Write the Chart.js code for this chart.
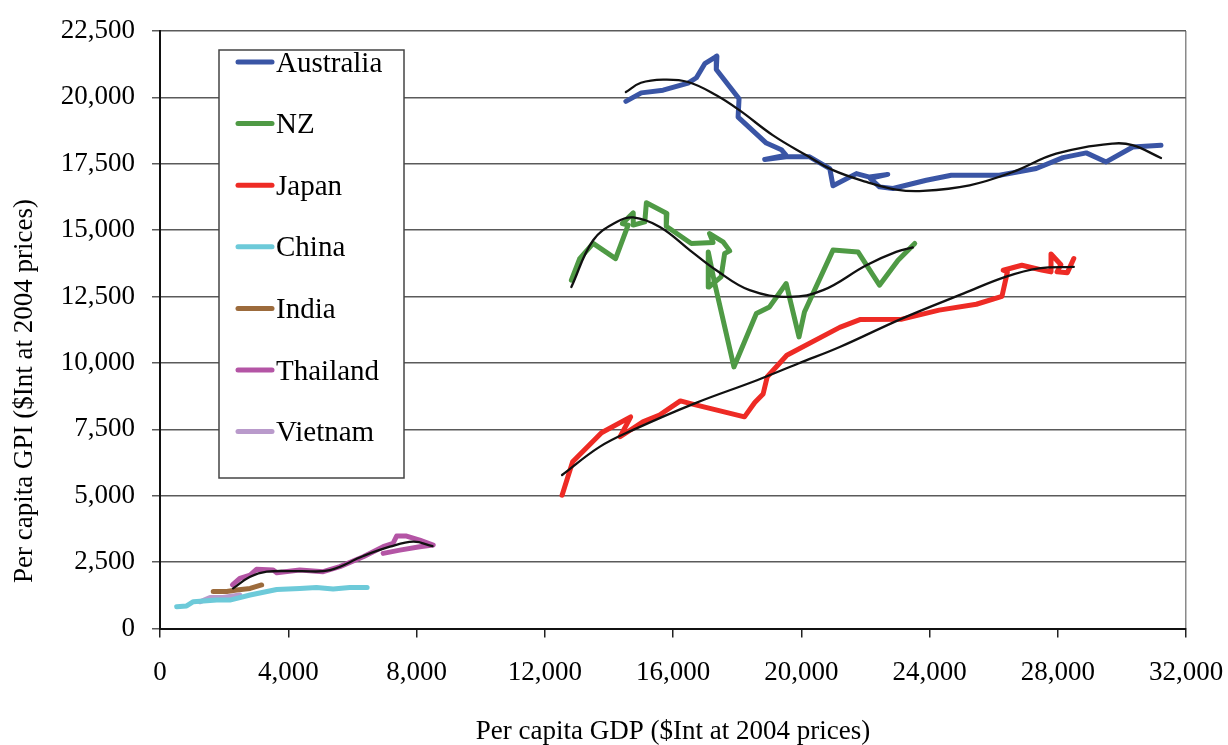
<!DOCTYPE html>
<html>
<head>
<meta charset="utf-8">
<script src="https://cdn.jsdelivr.net/npm/chart.js@4.4.1/dist/chart.umd.min.js"></script>
<style>
  html, body { margin: 0; padding: 0; background: #fff; }
</style>
</head>
<body>
<canvas id="chart" width="1228" height="745"></canvas>
<script>
// countries, in legend order
const countries = ['Australia', 'NZ', 'Japan', 'China', 'India', 'Thailand', 'Vietnam'];
const colors = ['#3a55a5', '#4f9a45', '#ee2b25', '#6dcad9', '#9c6b3c', '#b455a5', '#b99acb'];

// per capita GDP (x) and GPI (y), $Int at 2004 prices
const ausGdp = [14530, 15010, 15690, 16470, 16730, 16990, 17370, 17350, 18060, 18030, 18910, 19380, 19530, 18860, 19530, 20260, 20890, 20990, 21720, 22130, 22700, 22150, 22440, 22860, 23900, 24680, 26180, 27330, 28160, 28890, 29510, 30340, 31220];
const ausGpi = [19850, 20170, 20270, 20540, 20740, 21270, 21550, 21050, 19950, 19260, 18280, 18030, 17820, 17660, 17760, 17760, 17320, 16670, 17130, 17000, 17100, 16950, 16630, 16570, 16880, 17070, 17070, 17320, 17730, 17910, 17570, 18130, 18200];

const nzGdp = [12830, 13090, 13510, 14210, 14600, 14420, 14760, 14760, 15120, 15170, 15810, 15790, 16570, 17250, 17140, 17560, 17770, 17610, 17500, 17120, 17100, 17300, 17900, 18600, 19010, 19530, 19930, 20100, 20990, 21770, 22440, 23020, 23540];
const nzGpi = [13120, 13930, 14500, 13930, 15190, 15250, 15650, 15190, 15310, 16030, 15630, 15150, 14500, 14540, 14870, 14560, 14220, 14120, 13240, 12860, 14180, 13000, 9850, 11860, 12110, 12990, 10980, 11920, 14250, 14180, 12930, 13870, 14500];

const japanGdp = [12540, 12870, 13770, 14680, 14350, 15060, 15580, 16230, 16610, 18230, 18550, 18810, 18940, 19550, 21200, 21850, 23140, 24300, 25460, 26260, 26430, 26300, 26880, 27500, 27790, 27790, 28100, 27980, 28300, 28500];
const japanGpi = [5020, 6280, 7370, 7970, 7220, 7780, 8040, 8570, 8450, 7970, 8510, 8830, 9480, 10290, 11340, 11640, 11650, 11990, 12210, 12510, 13430, 13490, 13680, 13500, 13430, 14100, 13700, 13430, 13400, 13930];

const chinaGdp = [520, 830, 1040, 1770, 2180, 2810, 3640, 4360, 4880, 5400, 5920, 6460];
const chinaGpi = [820, 850, 1010, 1070, 1070, 1260, 1470, 1510, 1540, 1490, 1540, 1540];

const indiaGdp = [1660, 2080, 2390, 2810, 3170];
const indiaGpi = [1390, 1390, 1450, 1510, 1640];

const thaiGdp = [2260, 2490, 2810, 3010, 3530, 3640, 4360, 5090, 5610, 6340, 6960, 7270, 7380, 7690, 8100, 8520, 8100, 7480, 6960];
const thaiGpi = [1640, 1890, 2010, 2230, 2200, 2100, 2200, 2140, 2330, 2700, 3080, 3210, 3480, 3480, 3330, 3140, 3080, 2950, 2830];

const vietGdp = [1250, 1560, 1970, 2490];
const vietGpi = [1010, 1170, 1170, 1260];

// fitted trend curves (black)
const ausTrendGdp = [14530, 15000, 15690, 16470, 17350, 18080, 19120, 20160, 20990, 22030, 22960, 23800, 25250, 26600, 27950, 29720, 30330, 31220];
const ausTrendGpi = [20200, 20550, 20670, 20580, 20080, 19510, 18570, 17820, 17260, 16820, 16530, 16480, 16690, 17190, 17880, 18260, 18200, 17720];
const nzTrendGdp = [12830, 13510, 14240, 14760, 15590, 16520, 17350, 18390, 19640, 20680, 22030, 22960, 23480];
const nzTrendGpi = [12860, 14620, 15310, 15480, 15120, 14250, 13490, 12740, 12490, 12740, 13680, 14180, 14350];
const japanTrendGdp = [12540, 13710, 14740, 16680, 18620, 19910, 21200, 23140, 25070, 26370, 27400, 28500];
const japanTrendGpi = [5780, 6840, 7470, 8480, 9350, 9980, 10600, 11670, 12620, 13240, 13560, 13620];
const thaiTrendGdp = [2280, 2810, 3330, 4360, 5300, 6340, 7170, 7900, 8500];
const thaiTrendGpi = [1510, 1950, 2140, 2160, 2200, 2730, 3080, 3270, 3100];

const xTicks = [0, 4000, 8000, 12000, 16000, 20000, 24000, 28000, 32000];
const yTicks = [0, 2500, 5000, 7500, 10000, 12500, 15000, 17500, 20000, 22500];

const FONT = '"Liberation Serif", "Times New Roman", serif';

function pts(xs, ys) {
  return xs.map((x, i) => ({ x: x, y: ys[i] }));
}

const series = [
  [ausGdp, ausGpi], [nzGdp, nzGpi], [japanGdp, japanGpi], [chinaGdp, chinaGpi],
  [indiaGdp, indiaGpi], [thaiGdp, thaiGpi], [vietGdp, vietGpi]
];
const trends = [
  [ausTrendGdp, ausTrendGpi], [nzTrendGdp, nzTrendGpi],
  [japanTrendGdp, japanTrendGpi], [thaiTrendGdp, thaiTrendGpi]
];

const datasets = [];
series.forEach((s, i) => {
  datasets.push({
    label: countries[i],
    data: pts(s[0], s[1]),
    borderColor: colors[i],
    borderWidth: 5,
    order: 2
  });
});
trends.forEach((t, i) => {
  datasets.push({
    label: 'trend' + i,
    trend: true,
    data: pts(t[0], t[1]),
    borderColor: '#111',
    borderWidth: 2.3,
    tension: 0.4,
    order: 1
  });
});

// legend box drawn inside the plot, like the original
const boxLegend = {
  id: 'boxLegend',
  beforeDatasetsDraw(chart) {
    const ctx = chart.ctx;
    ctx.save();
    ctx.fillStyle = '#fff';
    ctx.fillRect(219, 50, 185, 428);
    ctx.strokeStyle = '#444';
    ctx.lineWidth = 1.5;
    ctx.strokeRect(219, 50, 185, 428);
    ctx.font = '29px ' + FONT;
    ctx.textBaseline = 'alphabetic';
    ctx.fillStyle = '#000';
    chart.data.datasets.filter(d => !d.trend).forEach((d, i) => {
      const y = 62 + i * 61.6;
      ctx.strokeStyle = d.borderColor;
      ctx.lineWidth = 5;
      ctx.lineCap = 'round';
      ctx.beginPath();
      ctx.moveTo(238, y);
      ctx.lineTo(272, y);
      ctx.stroke();
      ctx.fillText(d.label, 276, y + 9.5);
    });
    ctx.restore();
  }
};

// y axis title sits a bit below the centre of the axis in the original
const yTitle = {
  id: 'yTitle',
  afterDraw(chart) {
    const ctx = chart.ctx;
    ctx.save();
    ctx.translate(25, 391);
    ctx.rotate(-Math.PI / 2);
    ctx.font = '27px ' + FONT;
    ctx.fillStyle = '#000';
    ctx.textAlign = 'center';
    ctx.textBaseline = 'middle';
    ctx.fillText('Per capita GPI ($Int at 2004 prices)', 0, 0);
    ctx.restore();
  }
};

new Chart(document.getElementById('chart'), {
  type: 'scatter',
  data: { datasets: datasets },
  plugins: [boxLegend, yTitle],
  options: {
    responsive: false,
    animation: false,
    showLine: true,
    layout: { padding: { top: 31, right: 42, left: 0, bottom: 0 } },
    elements: {
      point: { radius: 0, hoverRadius: 0 },
      line: { borderJoinStyle: 'round', borderCapStyle: 'round', fill: false }
    },
    plugins: {
      legend: { display: false },
      tooltip: { enabled: false }
    },
    scales: {
      x: {
        type: 'linear',
        min: 0,
        max: 32000,
        afterBuildTicks: s => { s.ticks = xTicks.map(v => ({ value: v })); },
        afterFit: s => { s.height = 116.5; s.paddingLeft = 0; s.paddingRight = 0; },
        ticks: {
          color: '#000',
          font: { family: FONT, size: 27 },
          padding: 19,
          maxRotation: 0,
          callback: v => v.toLocaleString('en-US')
        },
        grid: {
          color: c => (c.tick && c.tick.value === 32000 ? '#8a8a8a' : 'rgba(0,0,0,0)'),
          tickColor: '#222',
          tickLength: 9,
          lineWidth: 1.5
        },
        border: { color: '#111', width: 2 },
        title: {
          display: true,
          text: 'Per capita GDP ($Int at 2004 prices)',
          color: '#000',
          font: { family: FONT, size: 27, lineHeight: 1 },
          padding: 0
        }
      },
      y: {
        min: 0,
        max: 22500,
        afterBuildTicks: s => { s.ticks = yTicks.map(v => ({ value: v })); },
        afterFit: s => { s.width = 160; s.paddingTop = 0; s.paddingBottom = 0; },
        ticks: {
          color: '#000',
          font: { family: FONT, size: 27 },
          padding: 17,
          callback: v => v.toLocaleString('en-US')
        },
        grid: {
          color: '#5a5a5a',
          tickColor: '#5a5a5a',
          tickLength: 8,
          lineWidth: 1.5
        },
        border: { color: '#111', width: 2 }
      }
    }
  }
});
</script>
</body>
</html>
